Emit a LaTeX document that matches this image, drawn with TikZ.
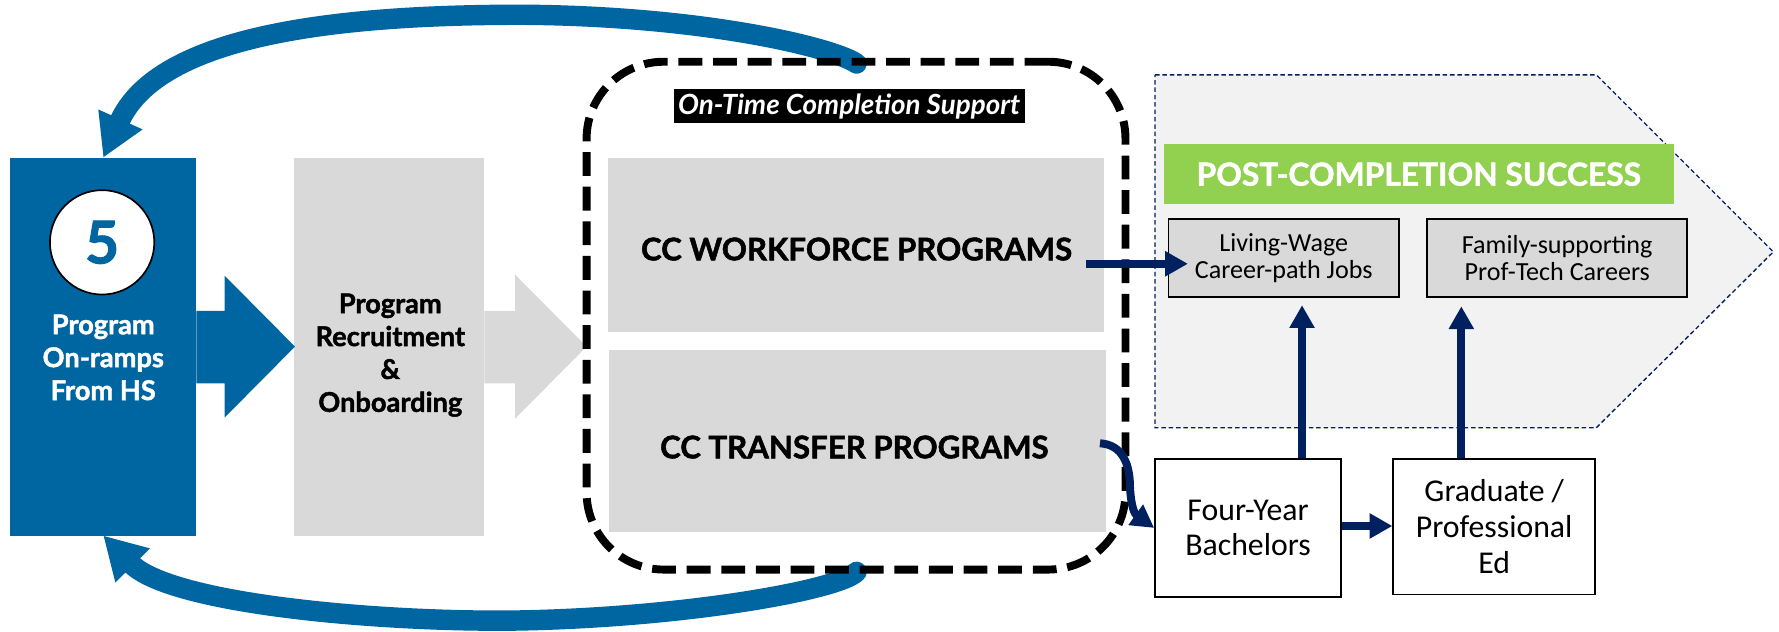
\documentclass[tikz,border=0pt]{standalone}
\usepackage{fontspec}
\setmainfont{Carlito}
\newfontfamily\latof{Lato}[BoldFeatures={FakeBold=1.6}]
\usetikzlibrary{arrows.meta,calc}
\definecolor{cblue}{RGB}{0,102,161}
\definecolor{cnavy}{RGB}{0,32,96}
\definecolor{cgrey}{RGB}{217,217,217}
\definecolor{clight}{RGB}{242,242,242}
\definecolor{cgreen}{RGB}{146,208,80}
\begin{document}
\begin{tikzpicture}[x=1pt,y=-1pt,
  loopline/.style={draw=cblue, line width=18pt, line cap=round, -{Triangle[length=37pt,width=40pt]}},
  navyarrow/.style={draw=cnavy, line width=7pt, -{Triangle[length=20pt,width=21pt]}},
  colbox/.style={inner sep=0pt, outer sep=0pt},
  smallbox/.style={draw=black, line width=1.5pt, fill=cgrey, inner sep=0pt, minimum height=69pt, align=center, font=\fontsize{23}{24.5}\selectfont},
  edbox/.style={draw=black, line width=1.5pt, fill=white, inner sep=0pt, align=center, font=\fontsize{28}{31.5}\selectfont},
  boldtext/.style={align=center, font=\latof\bfseries\fontsize{24}{29}\selectfont},
  bigtext/.style={font=\latof\bfseries\fontsize{27.5}{32}\selectfont}
]
\useasboundingbox (0,0) rectangle (1568,557);

% post-completion region
\draw[fill=clight, draw=cnavy, line width=1.2pt, dash pattern=on 4pt off 2.5pt]
  (1018,66) -- (1407,66) -- (1563,222) -- (1407,377) -- (1018,377) -- cycle;

% left boxes
\node[colbox, fill=cblue, minimum width=164pt, minimum height=333pt] (blue) at (91,305.5) {};
\node[colbox, fill=cgrey, minimum width=168pt, minimum height=333pt] (recruit) at (343,305.5) {};

% block arrows
\fill[cblue] (173,274) -- (198,274) -- (198,243) -- (260,305.5) -- (198,368) -- (198,338) -- (173,338) -- cycle;
\fill[cgrey] (427,274) -- (454,274) -- (454,242) -- (517,305.5) -- (454,369) -- (454,338) -- (427,338) -- cycle;

\node[circle, draw=black, line width=1.5pt, fill=white, minimum size=92pt, inner sep=0pt,
      text=cblue, font=\latof\bfseries\fontsize{52}{52}\selectfont] (five) at (90,213.6) {5};
\node[boldtext, text=white] (bluetxt) at (91,315) {Program\\On-ramps\\From HS};
\node[boldtext, text=black] (recrtxt) at (344,313) {Program\\Recruitment\\\&\\Onboarding};

% blue loops
\coordinate (topstart) at (755,56);
\coordinate (botstart) at (755,504);
\draw[loopline] (topstart) .. controls (735,42) and (620,14) .. (460,13)
   .. controls (300,13) and (140,30) .. (blue.north);
\draw[loopline] (botstart) .. controls (740,520) and (600,545) .. (450,547)
   .. controls (330,548) and (150,532) .. (blue.south);

% program boxes
\node[colbox, fill=cgrey, minimum width=437pt, minimum height=154pt] (wf) at (754.5,216) {};
\node[colbox, fill=cgrey, minimum width=438pt, minimum height=160.5pt] (tr) at (756,388.75) {};
\node[bigtext] (wft) at (755,219.5) {CC WORKFORCE PROGRAMS};
\node[bigtext] (trt) at (753,394) {CC TRANSFER PROGRAMS};

% dashed container
\node[draw=black, line width=7pt, dash pattern=on 21pt off 9.5pt, rounded corners=68pt,
      minimum width=475pt, minimum height=447.6pt, inner sep=0pt] (cts) at (754.5,278.2) {};
\node[colbox, fill=black, minimum width=309pt, minimum height=30pt, text=white,
      font=\latof\bfseries\itshape\fontsize{24.5}{26}\selectfont] (otc) at (748.5,93.5) {On-Time Completion Support};

% right side
\node[colbox, fill=cgreen, minimum width=449pt, minimum height=53pt, text=white,
      font=\latof\bfseries\fontsize{28}{32}\selectfont] (pcs) at (1250.5,153.5) {POST-COMPLETION SUCCESS};
\node[smallbox, minimum width=203pt] (lw) at (1131.5,227.5) {Living-Wage\\Career-path Jobs};
\node[smallbox, minimum width=229pt] (fam) at (1372.5,227.5) {Family-supporting\\Prof-Tech Careers};
\node[edbox, minimum width=164pt, minimum height=121.4pt] (four) at (1100,465.3) {Four-Year\\Bachelors};
\node[edbox, minimum width=178pt, minimum height=119.4pt] (grad) at (1317,464.3) {Graduate /\\Professional\\Ed};

% navy connectors
\coordinate (wfout) at (957,232.5);
\coordinate (lwin) at (1047,232.5);
\draw[navyarrow] (wfout) -- (lwin);
\coordinate (upA) at (1147.6,269);
\coordinate (upB) at (1288,270);
\draw[navyarrow] (upA |- four.north) -- (upA);
\draw[navyarrow] (upB |- grad.north) -- (upB);
\coordinate (fg) at (0,463.6);
\draw[navyarrow] (four.east |- fg) -- (grad.west |- fg);
\coordinate (trout) at (969.5,390.7);
\draw[navyarrow] (trout) .. controls (990,392) and (996,410) .. (996,430)
   .. controls (997,447) and (1000,453) .. (four.west);
\end{tikzpicture}
\end{document}
